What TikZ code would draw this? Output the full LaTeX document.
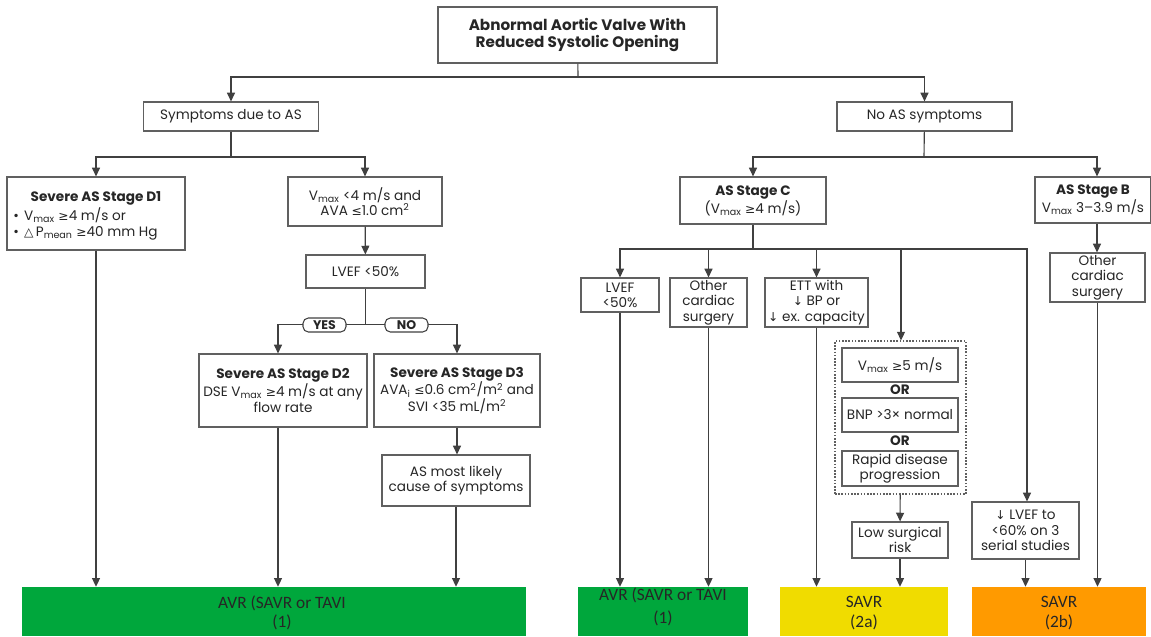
\documentclass[tikz,border=0pt]{standalone}
\usepackage{fontspec}
\setmainfont{Poppins}
\newfontfamily\symf{DejaVu Sans}[Scale=0.9]
\newfontfamily\narrowf{Carlito}
\usetikzlibrary{arrows.meta,calc}
\definecolor{gline}{HTML}{404040}
\definecolor{gbox}{HTML}{606060}
\definecolor{txt}{HTML}{262626}
\definecolor{cgreen}{HTML}{00A73C}
\definecolor{cyellow}{HTML}{F0DC00}
\definecolor{corange}{HTML}{FF9A00}
\newcommand\sbx[1]{\textsubscript{#1}}
\newcommand\sgeq{{\symf ≥}}
\newcommand\sleq{{\symf ≤}}
\newcommand\sdown{{\symf ↓}}
\newcommand\sqr{\textsuperscript{2}}
\begin{document}
\begin{tikzpicture}[x=0.75pt,y=-0.75pt,
  font=\fontsize{10.2}{11.5}\selectfont,
  box/.style={draw=gbox, line width=0.9pt, align=center, inner sep=1pt, text=txt, fill=white},
  wh/.style 2 args={minimum width=#1*0.75pt, minimum height=#2*0.75pt},
  arr/.style={draw=gline, line width=0.85pt, -{Triangle[width=6pt,length=6.5pt]}},
  ln/.style={draw=gline, line width=0.85pt},
  pill/.style={draw=gline, line width=0.8pt, rounded corners=4pt, fill=white, text=txt,
    font=\bfseries\fontsize{9.4}{10}\selectfont, wh={43}{14}, inner sep=0pt},
  res/.style={inner sep=0pt, align=center, font=\narrowf\fontsize{13}{14.5}\selectfont, text=black!85},
  plain/.style={inner sep=0pt, text=txt, align=center}
]
\useasboundingbox (0,0) rectangle (1151,636);

% ---------- top levels ----------
\node[box, wh={279}{56}, font=\bfseries\fontsize{11.4}{13}\selectfont] (top) at (577.5,35)
  {Abnormal Aortic Valve With\\Reduced Systolic Opening};
\node[box, wh={175}{29}] (sym) at (231,116.5) {Symptoms due to AS};
\node[box, wh={175}{29}] (noas) at (924.5,116.5) {No AS symptoms};

% ---------- left branch ----------
\node[box, wh={178}{73}] (d1) at (96,213.5) {};
\node[plain, font=\bfseries\fontsize{10.2}{11.5}\selectfont] (d1t) at (96,198) {Severe AS Stage D1};
\node[plain, anchor=west, align=left] (d1b) at (13,224)
  {\textbullet\hspace{4pt}V\sbx{max} \sgeq4 m/s or\\\textbullet\hspace{4pt}{\symf △}\,P\sbx{mean} \sgeq40 mm Hg};

\node[box, wh={154}{49}] (vmax) at (365,201.5) {V\sbx{max} <4 m/s and\\AVA \sleq1.0 cm\sqr};
\node[box, wh={119}{33}] (lvef) at (365.5,271.5) {LVEF <50\%};
\node[box, wh={168}{73}] (d2) at (283,390.5)
  {\textbf{Severe AS Stage D2}\\DSE V\sbx{max} \sgeq4 m/s at any\\flow rate};
\node[box, wh={166}{73}] (d3) at (457,390.5)
  {\textbf{Severe AS Stage D3}\\AVA\sbx{i} \sleq0.6 cm\sqr/m\sqr{} and\\SVI <35 mL/m\sqr};
\node[box, wh={148}{51}] (likely) at (456,480.5) {AS most likely\\cause of symptoms};

% ---------- right branch ----------
\node[box, wh={146}{47}] (stc) at (753,200.5) {\textbf{AS Stage C}\\(V\sbx{max} \sgeq4 m/s)};
\node[box, wh={116}{46}] (stb) at (1093,200) {\textbf{AS Stage B}\\V\sbx{max} 3–3.9 m/s};
\node[box, wh={78}{34}] (lvefc) at (620,295) {LVEF\\<50\%};
\node[box, wh={77}{49}] (othc) at (708.5,302.5) {Other\\cardiac\\surgery};
\node[box, wh={103}{49}] (ett) at (816.5,302.5) {ETT with\\\sdown{} BP or\\\sdown{} ex. capacity};
\node[box, wh={95}{49}] (othb) at (1097.5,277.5) {Other\\cardiac\\surgery};

\node[draw=gbox, line width=0.8pt, dash pattern=on 1.2pt off 1.2pt, wh={131}{153}, inner sep=0pt] (dash) at (900.5,417.5) {};
\node[box, wh={116}{34}] (v5) at (900,365) {V\sbx{max} \sgeq5 m/s};
\node[plain, font=\bfseries\fontsize{10.2}{11}\selectfont] (or1) at (900,390) {OR};
\node[box, wh={116}{34}] (bnp) at (900,415) {BNP >3× normal};
\node[plain, font=\bfseries\fontsize{10.2}{11}\selectfont] (or2) at (900,441) {OR};
\node[box, wh={116}{35}] (rapid) at (900,468.5) {Rapid disease\\progression};
\node[box, wh={96}{36}] (low) at (900,540) {Low surgical\\risk};
\node[box, wh={107}{57}] (lvef60) at (1025.5,530.5) {\sdown{} LVEF to\\<60\% on 3\\serial studies};

% ---------- results ----------
\node[fill=cgreen, wh={504}{49}, inner sep=0pt] (g1) at (274,611.5) {};
\node[res] (g1t) at (282,613) {AVR (SAVR or TAVI\\(1)};
\node[fill=cgreen, wh={170}{49}, inner sep=0pt] (g2) at (663,611.5) {};
\node[res, font=\narrowf\fontsize{13}{17.5}\selectfont] (g2t) at (663,607) {AVR (SAVR or TAVI\\(1)};
\node[fill=cyellow, wh={168}{49}, inner sep=0pt] (ye) at (864,611.5) {};
\node[res] (yet) at (864,613) {SAVR\\(2a)};
\node[fill=corange, wh={174}{49}, inner sep=0pt] (or) at (1059,611.5) {};
\node[res] (ort) at (1059,613) {SAVR\\(2b)};

% ---------- connectors ----------
\coordinate (j0) at (578,77);
\draw[ln] (top) -- (j0);
\draw[arr] (j0) -| (sym);
\draw[arr] (j0) -| (noas);

\coordinate (j1) at (231,157);
\draw[ln] (sym) -- (j1);
\draw[arr] (j1) -| (d1);
\draw[arr] (j1) -| (vmax);
\draw[arr] (d1) -- (d1 |- g1.north);
\draw[arr] (vmax) -- (lvef);

\coordinate (j2) at (365.5,324.5);
\coordinate (yesx) at (278,324.5);
\coordinate (nox) at (457,324.5);
\draw[ln] (lvef) -- (j2);
\draw[arr] (j2) -- (yesx) -- (yesx |- d2.north);
\draw[arr] (j2) -- (nox) -- (nox |- d3.north);
\node[pill] (yes) at (324.5,325) {YES};
\node[pill] (no) at (406.5,325) {NO};
\draw[arr] (yesx |- d2.south) -- (yesx |- g1.north);
\draw[arr] (d3) -- (d3 |- likely.north);
\draw[arr] (likely) -- (likely |- g1.north);

\coordinate (j3) at (924,157);
\coordinate (bx) at (1097,157);
\draw[ln] (noas) -- (j3);
\draw[arr] (j3) -| (stc);
\draw[arr] (j3) -- (bx) -- (bx |- stb.north);

\coordinate (j4) at (753,249);
\coordinate (lx) at (1027,249);
\coordinate (dx) at (901,249);
\draw[ln] (stc) -- (j4);
\draw[arr] (j4) -| (lvefc);
\draw[arr] (j4) -| (othc);
\draw[arr] (j4) -| (ett);
\draw[arr] (j4) -- (dx) -- (dx |- dash.north);
\draw[arr] (dx) -- (lx) -- (lx |- lvef60.north);

\draw[arr] (lvefc) -- (lvefc |- g2.north);
\draw[arr] (othc) -- (othc |- g2.north);
\draw[arr] (ett) -- (ett |- ye.north);
\draw[arr] (dash) -- (low);
\draw[arr] (low) -- (low |- ye.north);
\draw[arr] (lvef60) -- (lvef60 |- or.north);
\draw[arr] (bx |- stb.south) -- (bx |- othb.north);
\draw[arr] (othb) -- (othb |- or.north);
\end{tikzpicture}
\end{document}
